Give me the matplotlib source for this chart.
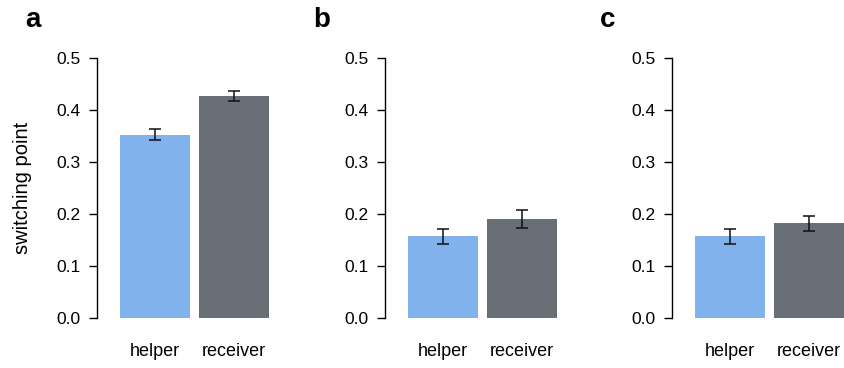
import matplotlib
matplotlib.use("Agg")
import matplotlib.pyplot as plt

plt.rcParams['font.family'] = ['Liberation Sans', 'DejaVu Sans']

categories = ["helper", "receiver"]
panels = ["a", "b", "c"]
means = [[0.352, 0.427], [0.158, 0.190], [0.158, 0.183]]
err_lo = [[0.343, 0.418], [0.142, 0.173], [0.143, 0.168]]
err_hi = [[0.363, 0.437], [0.172, 0.208], [0.171, 0.197]]
yticks = [0.0, 0.1, 0.2, 0.3, 0.4, 0.5]
ytick_labels = ["0.0", "0.1", "0.2", "0.3", "0.4", "0.5"]
colors = ["#82B2EE", "#686F76"]

W, H = 844, 368
fig = plt.figure(figsize=(W / 100, H / 100), dpi=100)
lefts = [97, 385, 672]
for i, p in enumerate(panels):
    ax = fig.add_axes([lefts[i] / W, (H - 318) / H, 172 / W, 260 / H])
    x = [0, 1]
    ax.bar(x, means[i], width=0.89, color=colors)
    lo = [m - l for m, l in zip(means[i], err_lo[i])]
    hi = [h - m for m, h in zip(means[i], err_hi[i])]
    ax.errorbar(x, means[i], yerr=[lo, hi], fmt='none', ecolor='#111111',
                elinewidth=1.1, capsize=4, capthick=1.1, clip_on=False)
    ax.set_xlim(-0.74, 1.445)
    ax.set_ylim(0, 0.5)
    ax.set_yticks(yticks)
    ax.set_yticklabels(ytick_labels)
    ax.set_xticks(x)
    ax.set_xticklabels(categories)
    for s in ['top', 'right', 'bottom']:
        ax.spines[s].set_visible(False)
    ax.spines['left'].set_linewidth(1.0)
    ax.tick_params(axis='y', length=6, width=1.0, pad=6, labelsize=12.5)
    ax.tick_params(axis='x', length=0, pad=18, labelsize=13)
    ax.patch.set_alpha(0)
    fig.text((lefts[i] - 72) / W, 1 - 20 / H, p, fontsize=20, fontweight='bold',
             ha='left', va='center')
    if i == 0:
        ax.set_ylabel("switching point", fontsize=14.5, labelpad=17)

fig.savefig("out.png", dpi=100)
